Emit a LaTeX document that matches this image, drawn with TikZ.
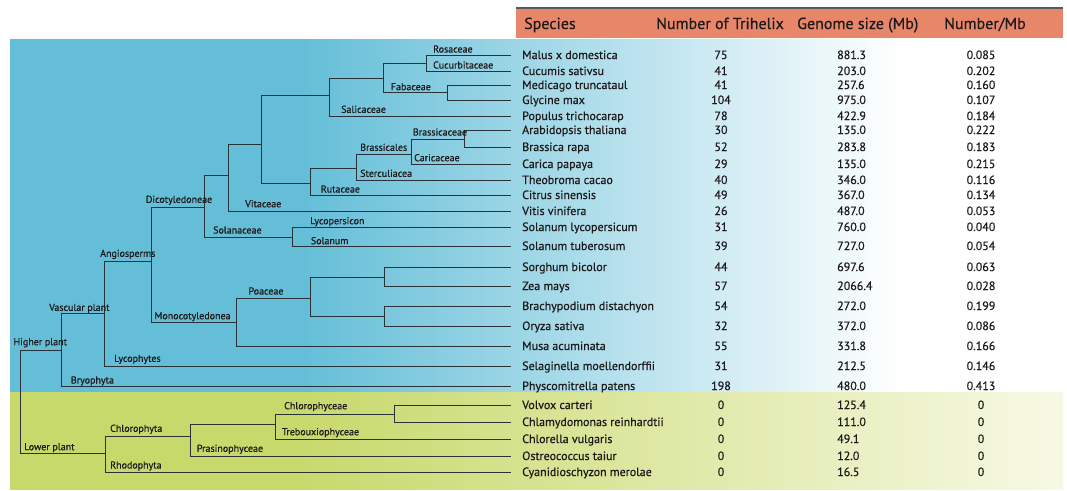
\documentclass[tikz,border=0pt]{standalone}
\usepackage{fontspec}
\setmainfont{PT Sans}
\newfontfamily\spf{PT Sans}[FakeBold=0.6]
\definecolor{blueL}{RGB}{100,190,216}
\definecolor{greenL}{RGB}{200,217,108}
\definecolor{greenR}{RGB}{247,249,228}
\definecolor{hdrc}{RGB}{232,134,106}
\definecolor{treec}{RGB}{40,50,55}
\definecolor{txt}{RGB}{30,26,27}
\pgfdeclarehorizontalshading{bluesh}{100bp}{color(0bp)=(blueL); color(38.8bp)=(blueL); color(67.3bp)=(white); color(100bp)=(white)}
\pgfdeclarehorizontalshading{greensh}{100bp}{color(0bp)=(greenL); color(38.8bp)=(greenL); color(75bp)=(greenR); color(100bp)=(greenR)}
\begin{document}
\begin{tikzpicture}[x=1pt,y=-1pt,
  br/.style={draw=treec,line width=1.2pt},
  sp/.style={anchor=base west,inner sep=3pt,text height=8pt,text depth=1pt,font=\spf\fontsize{12}{12}\selectfont,text=txt},
  numc/.style={anchor=base,inner sep=0pt,font=\spf\fontsize{12}{12}\selectfont,text=txt},
  numl/.style={anchor=base west,inner sep=0pt,font=\spf\fontsize{12}{12}\selectfont,text=txt},
  lab/.style={anchor=base west,inner sep=0pt,font=\spf\fontsize{10}{10}\selectfont,text=txt},
  hdr/.style={anchor=base west,inner sep=0pt,font=\spf\fontsize{16}{16}\selectfont,text=txt}]
\useasboundingbox (0,0) rectangle (1067,490);
% backgrounds
\shade[shading=bluesh] (10,39) rectangle (1063,392);
\shade[shading=greensh] (10,392) rectangle (1063,489);
% header
\fill[hdrc] (516,8) rectangle (1063,38);
\draw[line width=1.5pt,treec!80] (516,8) -- (1063,8);
\node[hdr] (h1) at (524,29) {Species};
\node[hdr] (h2) at (656,29) {Number of Trihelix};
\node[hdr] (h3) at (797,29) {Genome size (Mb)};
\node[hdr] (h4) at (944,29) {Number/Mb};
% tree internal nodes
\coordinate (R) at (20.5,400.5);
\coordinate (H) at (61.5,350.5);
\coordinate (V) at (104.5,313.5);
\coordinate (A) at (151.5,261.5);
\coordinate (D) at (204.5,207.5);
\coordinate (D1) at (228.5,175.5);
\coordinate (D2) at (261.5,144.5);
\coordinate (Rg) at (329.5,95.5);
\coordinate (Rg2) at (383.5,78.5);
\coordinate (RC) at (426.5,63.5);
\coordinate (Fab) at (447.5,92.5);
\coordinate (Bg) at (310.5,183.5);
\coordinate (Bsl) at (356.5,168.5);
\coordinate (Brs) at (411.5,154.5);
\coordinate (Bc) at (464.5,139.5);
\coordinate (Sol) at (292.5,237.5);
\coordinate (M) at (236.5,322.5);
\coordinate (P) at (310.5,298.5);
\coordinate (P1) at (384.5,277.5);
\coordinate (P2) at (384.5,316.5);
\coordinate (L) at (105.5,453.5);
\coordinate (Ch) at (190.5,436.5);
\coordinate (Cc) at (275.5,424.5);
\coordinate (Vv) at (394.5,414.5);
\foreach \a/\b in {R/H,R/L,H/V,V/A,A/D,A/M,D/D1,D/Sol,D1/D2,D2/Rg,D2/Bg,Rg/Rg2,Rg2/RC,Rg2/Fab,Bg/Bsl,Bsl/Brs,Brs/Bc,M/P,P/P1,P/P2,L/Ch,Ch/Cc,Cc/Vv}
  \draw[br] (\a) |- (\b);
% species rows
\foreach \i/\y/\nm/\ta/\tb/\tc/\p in {
 1/55.5/Malus x domestica/75/881.3/0.085/RC,
 2/71.5/Cucumis sativsu/41/203.0/0.202/RC,
 3/85.5/Medicago truncataul/41/257.6/0.160/Fab,
 4/100.5/Glycine max/104/975.0/0.107/Fab,
 5/116.5/Populus trichocarap/78/422.9/0.184/Rg,
 6/130.5/Arabidopsis thaliana/30/135.0/0.222/Bc,
 7/147.5/Brassica rapa/52/283.8/0.183/Bc,
 8/164.5/Carica papaya/29/135.0/0.215/Brs,
 9/180.5/Theobroma cacao/40/346.0/0.116/Bsl,
 10/195.5/Citrus sinensis/49/367.0/0.134/Bg,
 11/211.5/Vitis vinifera/26/487.0/0.053/D1,
 12/227.5/Solanum lycopersicum/31/760.0/0.040/Sol,
 13/246.5/Solanum tuberosum/39/727.0/0.054/Sol,
 14/267.5/Sorghum bicolor/44/697.6/0.063/P1,
 15/286.5/Zea mays/57/2066.4/0.028/P1,
 16/306.5/Brachypodium distachyon/54/272.0/0.199/P2,
 17/326.5/Oryza sativa/32/372.0/0.086/P2,
 18/346.5/Musa acuminata/55/331.8/0.166/M,
 19/366.5/Selaginella moellendorffii/31/212.5/0.146/V,
 20/386.5/Physcomitrella patens/198/480.0/0.413/H,
 21/405.5/Volvox carteri/0/125.4/0/Vv,
 22/422.5/Chlamydomonas reinhardtii/0/111.0/0/Vv,
 23/439.5/Chlorella vulgaris/0/49.1/0/Cc,
 24/456.5/Ostreococcus taiur/0/12.0/0/Ch,
 25/472.5/Cyanidioschyzon merolae/0/16.5/0/L}{
  \node[sp] (s\i) at (519,\y+3.5) {\nm};
  \draw[br,shorten >=8pt] (\p) |- (s\i.west);
  \node[numc] (n\i) at (721,\y+3.5) {\ta};
  \node[numl] (g\i) at (837,\y+3.5) {\tb};
  \node[numc] (r\i) at (981,\y+3.5) {\tc};
}
% clade labels
\foreach \nm/\x/\y [count=\k] in {
 Rosaceae/433/49, Cucurbitaceae/433/65, Fabaceae/390.7/86.7, Salicaceae/341/109.3,
 Brassicaceae/412.7/132, Caricaceae/414/157.7, Brassicales/360/147.3, Sterculiacea/360/173.3,
 Rutaceae/320.7/189, Vitaceae/245/203.7, Lycopersicon/310/220.7, Solanum/310.7/240.7,
 Solanaceae/213/230, Dicotyledoneae/145.7/199.3, Angiosperms/100/253.3,
 Monocotyledonea/154.3/315.7, Poaceae/248.3/291, Vascular plant/49/307.3,
 Lycophytes/114/358.3, Higher plant/13.3/341.7, Bryophyta/70.7/380,
 Lower plant/24/446.7, Chlorophyta/110/428.3, Rhodophyta/110/465,
 Prasinophyceae/196.7/448.3, Chlorophyceae/284/405.7, Trebouxiophyceae/281.7/431.7}{
  \node[lab] (lab\k) at (\x,\y+3.5) {\nm};
}
\end{tikzpicture}
\end{document}
